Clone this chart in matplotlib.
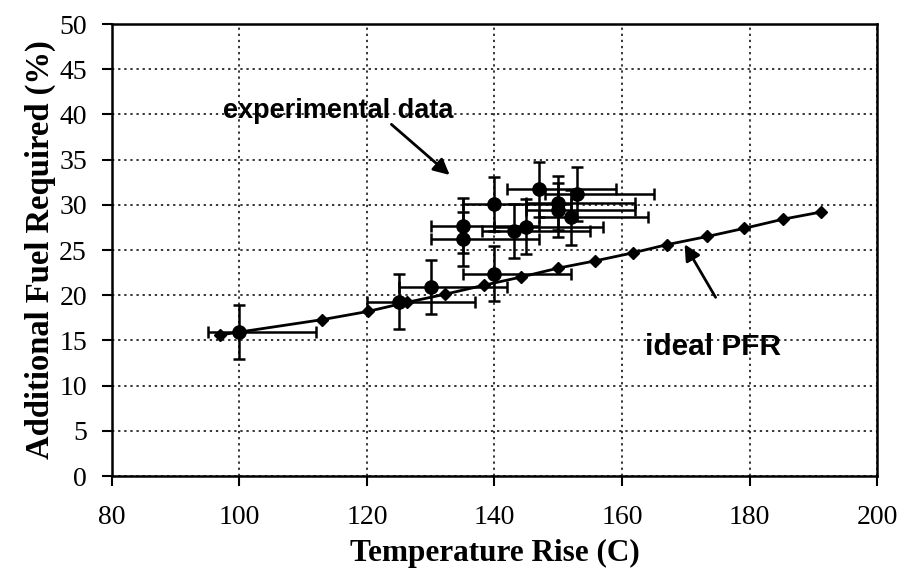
import numpy as np
import matplotlib.pyplot as plt

# ideal PFR curve
pfr_x = [96.9, 113.0, 120.1, 126.2, 132.2, 138.3, 144.1, 150.0, 155.8, 161.8, 167.1, 173.4, 179.2, 185.2, 191.2]
pfr_y = [15.6, 17.3, 18.2, 19.2, 20.1, 21.1, 22.0, 23.0, 23.8, 24.7, 25.6, 26.5, 27.4, 28.4, 29.2]

# experimental points
exp_x = [100, 125, 130, 140, 135, 135, 140, 143, 145, 147, 150, 150, 153, 152]
exp_y = [15.9, 19.3, 20.9, 22.4, 27.7, 26.2, 30.1, 27.1, 27.6, 31.7, 30.2, 29.4, 31.2, 28.6]
xerr_lo = 5
xerr_hi = 12
yerr = 3

fig = plt.figure(figsize=(9.06, 5.77), dpi=100)
ax = fig.add_axes([0.1236, 0.175, 0.968 - 0.1236, 0.9584 - 0.175])

ax.plot(pfr_x, pfr_y, color="black", lw=2, marker="D", ms=6, zorder=3)

n = len(exp_x)
ax.errorbar(exp_x, exp_y,
            xerr=[[xerr_lo] * n, [xerr_hi] * n],
            yerr=[[yerr] * n, [yerr] * n],
            fmt="o", color="black", ms=9.5, elinewidth=1.8, capsize=4, capthick=1.8, zorder=4)

ax.set_xlim(80, 200)
ax.set_ylim(0, 50)
ax.set_xticks(np.arange(80, 201, 20))
ax.set_yticks(np.arange(0, 51, 5))
ax.grid(True, color="black", ls=(0, (1.5, 2.5)), lw=1.1)
ax.set_axisbelow(True)
for sp in ax.spines.values():
    sp.set_linewidth(1.8)
ax.tick_params(direction="out", length=7, width=1.5, labelsize=20)
ax.tick_params(axis="x", pad=14)
ax.tick_params(axis="y", pad=11)
for lab in ax.get_xticklabels() + ax.get_yticklabels():
    lab.set_family("Liberation Serif")

ax.set_xlabel("Temperature Rise (C)", family="Liberation Serif", fontweight="bold", fontsize=22.5, labelpad=6)
ax.set_ylabel("Additional Fuel Required (%)", family="Liberation Serif", fontweight="bold", fontsize=23.5, labelpad=2)

# annotations
ax.text(115.5, 39.6, "experimental data", family="Liberation Sans", fontweight="bold",
        fontsize=19.5, ha="center", va="baseline")
ax.annotate("", xy=(133.3, 33.1), xytext=(123.5, 39.1),
            arrowprops=dict(arrowstyle="-|>", color="black", lw=2, mutation_scale=24))

ax.text(174.3, 13.4, "ideal PFR", family="Liberation Sans", fontweight="bold",
        fontsize=21.5, ha="center", va="baseline")
ax.annotate("", xy=(169.6, 25.9), xytext=(174.9, 19.5),
            arrowprops=dict(arrowstyle="-|>", color="black", lw=2, mutation_scale=24))

fig.savefig("out.png", dpi=100)
